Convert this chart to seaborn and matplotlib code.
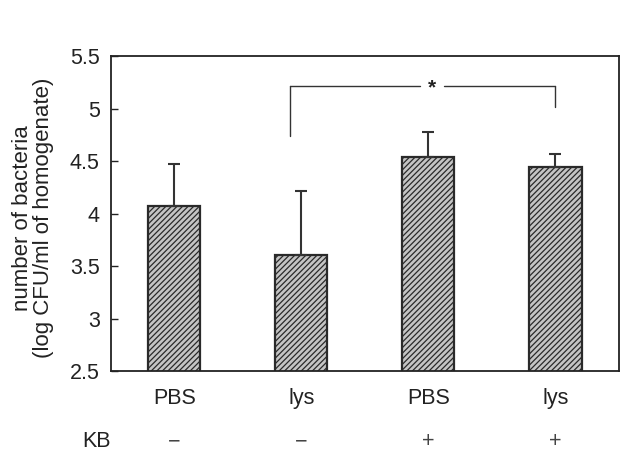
import matplotlib
matplotlib.use("Agg")
import matplotlib.pyplot as plt
import matplotlib.transforms as mtransforms
import seaborn as sns
import pandas as pd
import numpy as np

# ---- data ----
groups = ["PBS/KB-", "lys/KB-", "PBS/KB+", "lys/KB+"]
treatment = ["PBS", "lys", "PBS", "lys"]
kb_signs = ["\u2212", "\u2212", "+", "+"]
means = [4.07, 3.61, 4.54, 4.44]
sem = [0.40, 0.61, 0.24, 0.13]
yticks = [2.5, 3, 3.5, 4, 4.5, 5, 5.5]
ytick_labels = ["2.5", "3", "3.5", "4", "4.5", "5", "5.5"]
sig_label = "*"

sns.set_theme(style="white")
plt.rcParams["font.family"] = ["Liberation Sans", "DejaVu Sans"]
plt.rcParams["hatch.linewidth"] = 0.9

FS = 15.5
TXT = "#222222"

fig = plt.figure(figsize=(6.3, 4.53), dpi=100)
ax = fig.add_axes([0.176, 0.181, 0.8065, 0.695])

df = pd.DataFrame({"group": groups, "value": means})
sns.barplot(data=df, x="group", y="value", order=groups, ax=ax,
            color="#b8b8b8", width=0.41, edgecolor="#222222", linewidth=1.6,
            errorbar=None)
for p in ax.patches:
    p.set_hatch("//////")
    p.set_facecolor("#c4c4c4")
    p.set_edgecolor("#2a2a2a")

xs = np.arange(len(groups))
ax.errorbar(xs, means, yerr=[np.zeros(len(sem)), sem], fmt="none",
            ecolor="#333333", elinewidth=1.5, capsize=4.5, capthick=1.5, zorder=1)

ax.set_xlim(-0.5, 3.5)
ax.set_ylim(2.5, 5.5)
ax.set_yticks(yticks)
ax.set_yticklabels(ytick_labels, fontsize=FS)
ax.set_xticks(xs)
ax.set_xticklabels(treatment, fontsize=FS)
ax.tick_params(axis="y", direction="in", length=5, width=1, left=True, pad=8, colors=TXT)
ax.tick_params(axis="x", length=0, pad=12, colors=TXT)
ax.set_xlabel("")
ax.set_ylabel("number of bacteria\n(log CFU/ml of homogenate)", fontsize=16,
              color=TXT, linespacing=0.98)
ax.yaxis.set_label_coords(-0.112, 0.486)

for s in ax.spines.values():
    s.set_visible(True)
    s.set_color("#222222")
    s.set_linewidth(1.3)

# KB row
trans = mtransforms.blended_transform_factory(ax.transData, ax.transAxes)
ky = -71 / 315
ax.text(-0.61, ky, "KB", transform=trans, ha="center", va="center",
        fontsize=FS, color=TXT, clip_on=False)
for x, s in zip(xs, kb_signs):
    ax.text(x, ky, s, transform=trans, ha="center", va="center",
            fontsize=FS, color="#444444", clip_on=False)

# significance bracket
bx0, bx1 = 0.91, 3.0
ytop = 5.22
ax.plot([bx0, bx0], [4.74, ytop], color="#333333", lw=1.0)
ax.plot([bx0, 1.93], [ytop, ytop], color="#333333", lw=1.0)
ax.plot([2.12, bx1], [ytop, ytop], color="#333333", lw=1.0)
ax.plot([bx1, bx1], [ytop, 5.02], color="#333333", lw=1.0)
ax.text(2.03, ytop - 0.02, sig_label, ha="center", va="center", fontsize=15,
        fontweight="bold", color=TXT)

fig.savefig("out.png", dpi=100)
